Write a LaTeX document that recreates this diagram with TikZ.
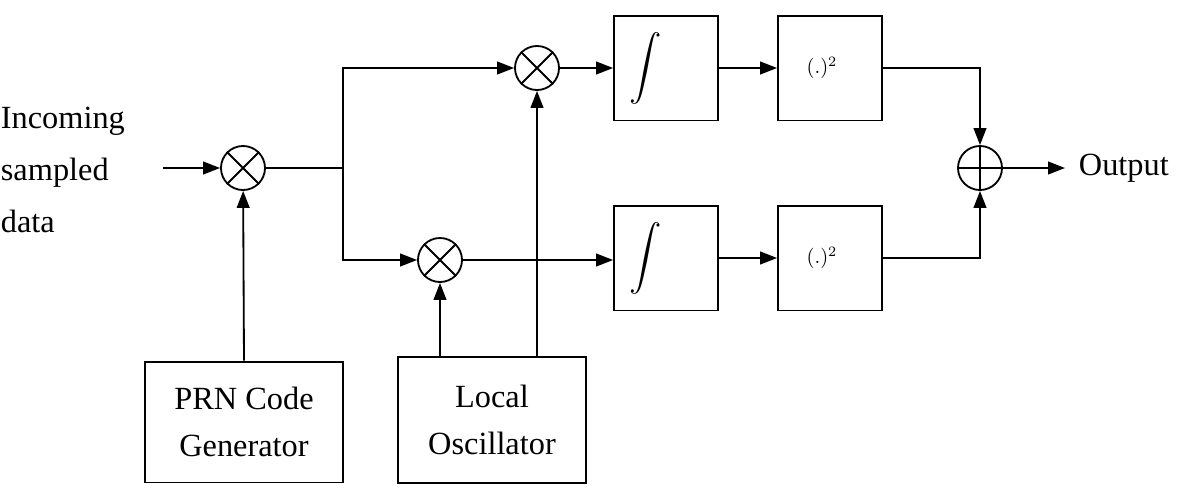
\documentclass[tikz,border=0pt]{standalone}
\usepackage{graphicx}
\usepackage{fontspec}
\setmainfont{Liberation Serif}
\usetikzlibrary{arrows.meta}
\begin{document}
\begin{tikzpicture}[x=0.025cm,y=-0.025cm,
  line width=1.3pt,
  >={Triangle[length=12pt,width=9pt]},
  box/.style={draw,minimum width=2.6cm,minimum height=2.62cm,inner sep=0pt},
  bigbox/.style={draw,inner sep=0pt,align=center,font=\fontsize{23}{34}\selectfont},
  circ/.style={draw,circle,minimum size=1.1cm,inner sep=0pt},
  lbl/.style={font=\fontsize{23}{37}\selectfont,align=left,inner sep=0pt}]
\useasboundingbox (0,0) rectangle (1180,495);
\node[lbl,anchor=west] (in) at (0,170) {Incoming\\sampled\\data};
\coordinate (instart) at (163,168);
\node[circ] (m1) at (243,168) {};
\draw (m1.north west)--(m1.south east) (m1.north east)--(m1.south west);
\node[circ] (m2) at (537,68) {};
\draw (m2.north west)--(m2.south east) (m2.north east)--(m2.south west);
\node[circ] (m3) at (440,260) {};
\draw (m3.north west)--(m3.south east) (m3.north east)--(m3.south west);
\node[circ] (s) at (980,168) {};
\draw (s.north)--(s.south) (s.west)--(s.east);
\node[bigbox,minimum width=4.95cm,minimum height=3.02cm] (prn) at (244,422) {PRN Code\\Generator};
\node[bigbox,minimum width=4.7cm,minimum height=3.15cm] (lo) at (492,420) {Local\\Oscillator};
\node[box] (i1) at (666,68) {};
\node at ([xshift=-0.5cm]i1) {\scalebox{2.3}{$\displaystyle\int$}};
\node[box] (i2) at (666,258) {};
\node at ([xshift=-0.5cm]i2) {\scalebox{2.3}{$\displaystyle\int$}};
\node[box] (q1) at (830,68) {};
\node at ([xshift=-0.2cm]q1) {\scalebox{1.45}{$(.)^2$}};
\node[box] (q2) at (830,258) {};
\node at ([xshift=-0.2cm]q2) {\scalebox{1.45}{$(.)^2$}};
\node[lbl,anchor=west] (out) at (1078,168) {Output};
\coordinate (oend) at (1065,168);
\coordinate (br) at (343,168);
\draw[->] (instart)--(m1);
\draw (m1)--(br);
\draw[->] (br)|-(m2);
\draw[->] (br)|-(m3);
\draw[->] (prn.north)--(m1);
\draw[->] (lo.north -| m3)--(m3);
\draw[->] (lo.north -| m2)--(m2);
\draw[->] (m2)--(i1);
\draw[->] (m3)--(i2.west |- m3);
\draw[->] (i1)--(q1);
\draw[->] (i2)--(q2);
\draw[->] (q1.east)-|(s);
\draw[->] (q2.east)-|(s);
\draw[->] (s)--(oend);
\end{tikzpicture}
\end{document}
